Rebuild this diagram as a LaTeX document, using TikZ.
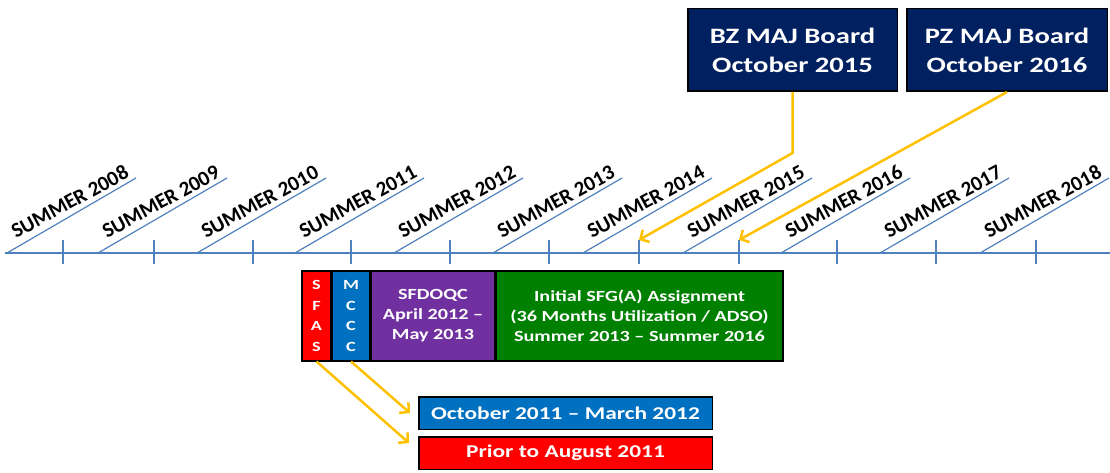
\documentclass[tikz,border=0pt]{standalone}
\usepackage{fontspec}
\setmainfont{Carlito}[FakeStretch=1.3]
\newfontfamily\yrfont{Carlito}
\usepackage{xcolor}
\usetikzlibrary{arrows.meta, positioning, calc}

\definecolor{navybox}{RGB}{0,32,96}
\definecolor{axisblue}{RGB}{79,129,189}
\definecolor{boardyellow}{RGB}{255,192,0}
\definecolor{mcccblue}{RGB}{0,112,192}
\definecolor{qcpurple}{RGB}{112,48,160}
\definecolor{sfggreen}{RGB}{0,128,0}

\begin{document}
\begin{tikzpicture}[
    x=1pt, y=1pt,
    every node/.style={font=\bfseries, text=white, inner sep=0pt}, % white bold text in every box
    board/.style={draw=black, line width=1.5pt, fill=navybox, minimum height=82.5pt, align=center,
      font=\fontsize{22}{29}\selectfont\bfseries},
    phase/.style={draw=black, line width=1.5pt, minimum height=89.5pt, align=center,
      font=\fontsize{15.5}{20}\selectfont\bfseries},
    letters/.style={phase, font=\fontsize{14}{20.6}\selectfont\bfseries},
    datebox/.style={draw=black, line width=1.5pt, minimum width=293.5pt, minimum height=32.5pt,
      font=\fontsize{18}{20}\selectfont\bfseries},
    yarrow/.style={draw=boardyellow, line width=2.5pt, -{Straight Barb[length=6.5pt, width=14pt]}},
    yearlbl/.style={text=black, rotate=28.5, anchor=south east, inner sep=1pt, xshift=-3pt, yshift=2pt,
      font=\yrfont\fontsize{21}{21}\selectfont\bfseries}
  ]
  \useasboundingbox (0,0) rectangle (1110,472);

  % time axis
  \draw[axisblue, line width=1.8pt] (5,219) -- (1110,219);
  \foreach \yr/\sx in {2008/7, 2009/98, 2010/197, 2011/295, 2012/394, 2013/493,
                       2014/583, 2015/683, 2016/781, 2017/880, 2018/980} {
    \draw[axisblue, line width=1.2pt] (\sx,219) -- ++(129,75) node[yearlbl] (y\yr) {SUMMER \yr};
    \draw[axisblue, line width=1.5pt] (\sx+56,208) -- (\sx+56,232) coordinate (t\yr);
  }

  % boards
  \node[board, minimum width=209.5pt] (bz) at (792.5,422) {BZ MAJ Board\\October 2015};
  \node[board, minimum width=200.5pt, right=8pt of bz] (pz) {PZ MAJ Board\\October 2016};

  % phases
  \node[letters, fill=red, minimum width=28.5pt, anchor=north west] (sfas) at (301.5,201.5) {S\\F\\A\\S};
  \node[letters, fill=mcccblue, minimum width=37.5pt, right=0pt of sfas] (mccc) {M\\C\\C\\C};
  \node[phase, fill=qcpurple, minimum width=123.5pt, right=0pt of mccc] (sfdoqc) {SFDOQC\\April 2012 --\\May 2013};
  \node[phase, fill=sfggreen, minimum width=286.5pt, right=0pt of sfdoqc] (sfga)
    {Initial SFG(A) Assignment\\(36 Months Utilization / ADSO)\\Summer 2013 -- Summer 2016};
  \draw[line width=1.5pt] (sfas.north west) rectangle (sfga.south east);

  % dates
  \node[datebox, fill=mcccblue] (octmar) at (565.5,59) {October 2011 -- March 2012};
  \node[datebox, fill=red, below=6pt of octmar] (prior) {Prior to August 2011};

  \draw[yarrow] (bz.south) -- ++(0,-61) -- (t2014);
  \draw[yarrow] (pz.south) -- (t2015);
  \draw[yarrow] (mccc.south) -- ($(octmar.west)+(-8,0)$);
  \draw[yarrow] (sfas.south) -- ($(prior.west)+(-9,10)$);

\end{tikzpicture}
\end{document}
